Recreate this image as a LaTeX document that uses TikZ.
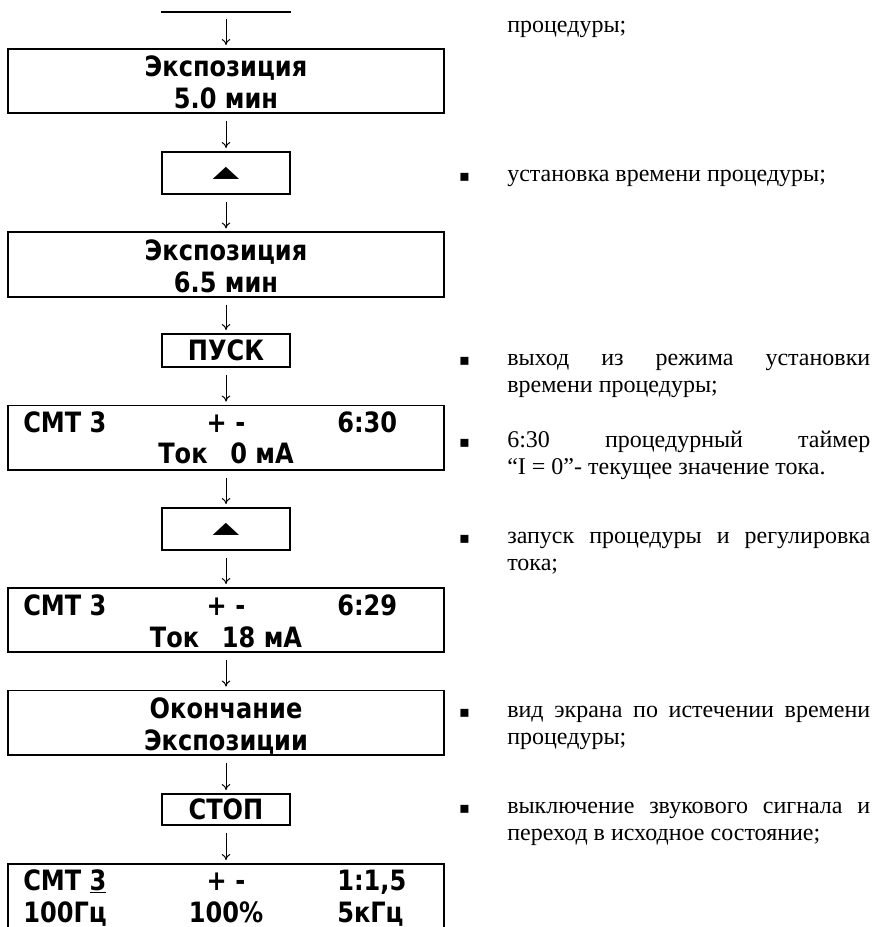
\documentclass[tikz,border=0pt]{standalone}
\usepackage{fontspec}
\usepackage{graphicx}
\setmainfont{Liberation Serif}
\newfontfamily\lcdfont[FakeStretch=0.86]{DejaVu Sans}
\newfontfamily\symfont{DejaVu Sans}
\usetikzlibrary{arrows.meta}

\newcommand\lcdtext{\lcdfont\bfseries\fontsize{21pt}{24pt}\selectfont}
\newcommand\notetext{\fontsize{18pt}{20.8pt}\selectfont\hyphenpenalty=10000}
\newcommand\keyup{\symfont\fontsize{26pt}{26pt}\selectfont\scalebox{1}[0.46]{▲}}

\begin{document}
\begin{tikzpicture}[x=0.75pt, y=-0.75pt]
\tikzstyle{screen_wide}=[rectangle, draw=black, line width=1.3pt, minimum width=326.5pt, minimum height=48.2pt, inner sep=0pt, align=center, font=\lcdtext, text height=41.25pt, text depth=0pt];
\tikzstyle{screen_key}=[rectangle, draw=black, line width=1.3pt, minimum width=95.5pt, inner sep=0pt, font=\lcdtext];
\tikzstyle{lcd_text}=[inner sep=0pt, font=\lcdtext];
\tikzstyle{note_text}=[inner sep=0pt, text width=272.25pt, align=justify, font=\notetext, anchor=base west];
\tikzstyle{note_bullet}=[inner sep=0pt, font=\symfont\fontsize{12pt}{12pt}\selectfont, anchor=base];
\tikzstyle{arrow}=[-{To[length=4.5pt,width=6.5pt]}, line width=0.75pt, shorten <=5.25pt, shorten >=2.25pt];

\useasboundingbox (0,0) rectangle (874,927);
\clip (0,0) rectangle (874,927);

\coordinate (Prev West) at (161,12);
\coordinate (Prev East) at (291,12);
\coordinate (Prev) at (226,12);
\draw[line width=1.3pt] (Prev West) -- (Prev East);

\node [screen_wide] at (226,81) (Exposure Old) {Экспозиция\\5.0 мин};
\node [screen_key, minimum height=31.7pt] at (226,173) (Key Up A) {\keyup};
\node [screen_wide] at (226,264.5) (Exposure New) {Экспозиция\\6.5 мин};
\node [screen_key, minimum height=24.9pt] at (226,350.5) (Start Key) {ПУСК};
\node [screen_wide] at (226,437.5) (Timer Idle) {};
\node [screen_key, minimum height=31.7pt] at (226,529) (Key Up B) {\keyup};
\node [screen_wide] at (226,620) (Timer Run) {};
\node [screen_wide] at (226,722.5) (Exposure End) {Окончание\\Экспозиции};
\node [screen_key, minimum height=23.4pt] at (226,809.5) (Stop Key) {СТОП};
\node [screen_wide] at (226,896) (Home Screen) {};

% lcd rows
\node [lcd_text, anchor=base west] at (23,432) (Idle Mode) {СМТ 3};
\node [lcd_text, anchor=base] at (226,432) (Idle Sign) {+ -};
\node [lcd_text, anchor=base west] at (337,432) (Idle Time) {6:30};
\node [lcd_text, anchor=base] at (226,463) (Idle Current) {Ток\hspace{17pt}0 мА};

\node [lcd_text, anchor=base west] at (23,615) (Run Mode) {СМТ 3};
\node [lcd_text, anchor=base] at (226,615) (Run Sign) {+ -};
\node [lcd_text, anchor=base west] at (337,615) (Run Time) {6:29};
\node [lcd_text, anchor=base] at (226,647) (Run Current) {Ток\hspace{17pt}18 мА};

\node [lcd_text, anchor=base west] at (23,890) (Home Mode) {СМТ \underline{3}};
\node [lcd_text, anchor=base] at (226,890) (Home Sign) {+ -};
\node [lcd_text, anchor=base west] at (337,890) (Home Ratio) {1:1,5};
\node [lcd_text, anchor=base west] at (23,922) (Home Low) {100Гц};
\node [lcd_text, anchor=base] at (226,922) (Home Depth) {100\%};
\node [lcd_text, anchor=base west] at (337,922) (Home High) {5кГц};

% notes
\node [note_text] at (507,33) (Note Top) {процедуры;};
\node [note_bullet] at (464.5,182) (Bullet A) {▪};
\node [note_text] at (507,182) (Note A) {установка времени процедуры;};
\node [note_bullet] at (464.5,365) (Bullet B) {▪};
\node [note_text] at (507,365) (Note B) {выход из режима установки\linebreak времени процедуры;};
\node [note_bullet] at (464.5,447) (Bullet C) {▪};
\node [note_text] at (507,447) (Note C) {6:30 процедурный таймер\linebreak “I = 0”- текущее значение тока.};
\node [note_bullet] at (464.5,543) (Bullet D) {▪};
\node [note_text] at (507,543) (Note D) {запуск процедуры и регулировка\linebreak тока;};
\node [note_bullet] at (464.5,717) (Bullet E) {▪};
\node [note_text] at (507,717) (Note E) {вид экрана по истечении времени\linebreak процедуры;};
\node [note_bullet] at (464.5,813) (Bullet F) {▪};
\node [note_text] at (507,813) (Note F) {выключение звукового сигнала и\linebreak переход в исходное состояние;};

\draw[arrow] (Prev) -- (Exposure Old);
\draw[arrow] (Exposure Old) -- (Key Up A);
\draw[arrow] (Key Up A) -- (Exposure New);
\draw[arrow] (Exposure New) -- (Start Key);
\draw[arrow] (Start Key) -- (Timer Idle);
\draw[arrow] (Timer Idle) -- (Key Up B);
\draw[arrow] (Key Up B) -- (Timer Run);
\draw[arrow] (Timer Run) -- (Exposure End);
\draw[arrow] (Exposure End) -- (Stop Key);
\draw[arrow] (Stop Key) -- (Home Screen);

\end{tikzpicture}
\end{document}
